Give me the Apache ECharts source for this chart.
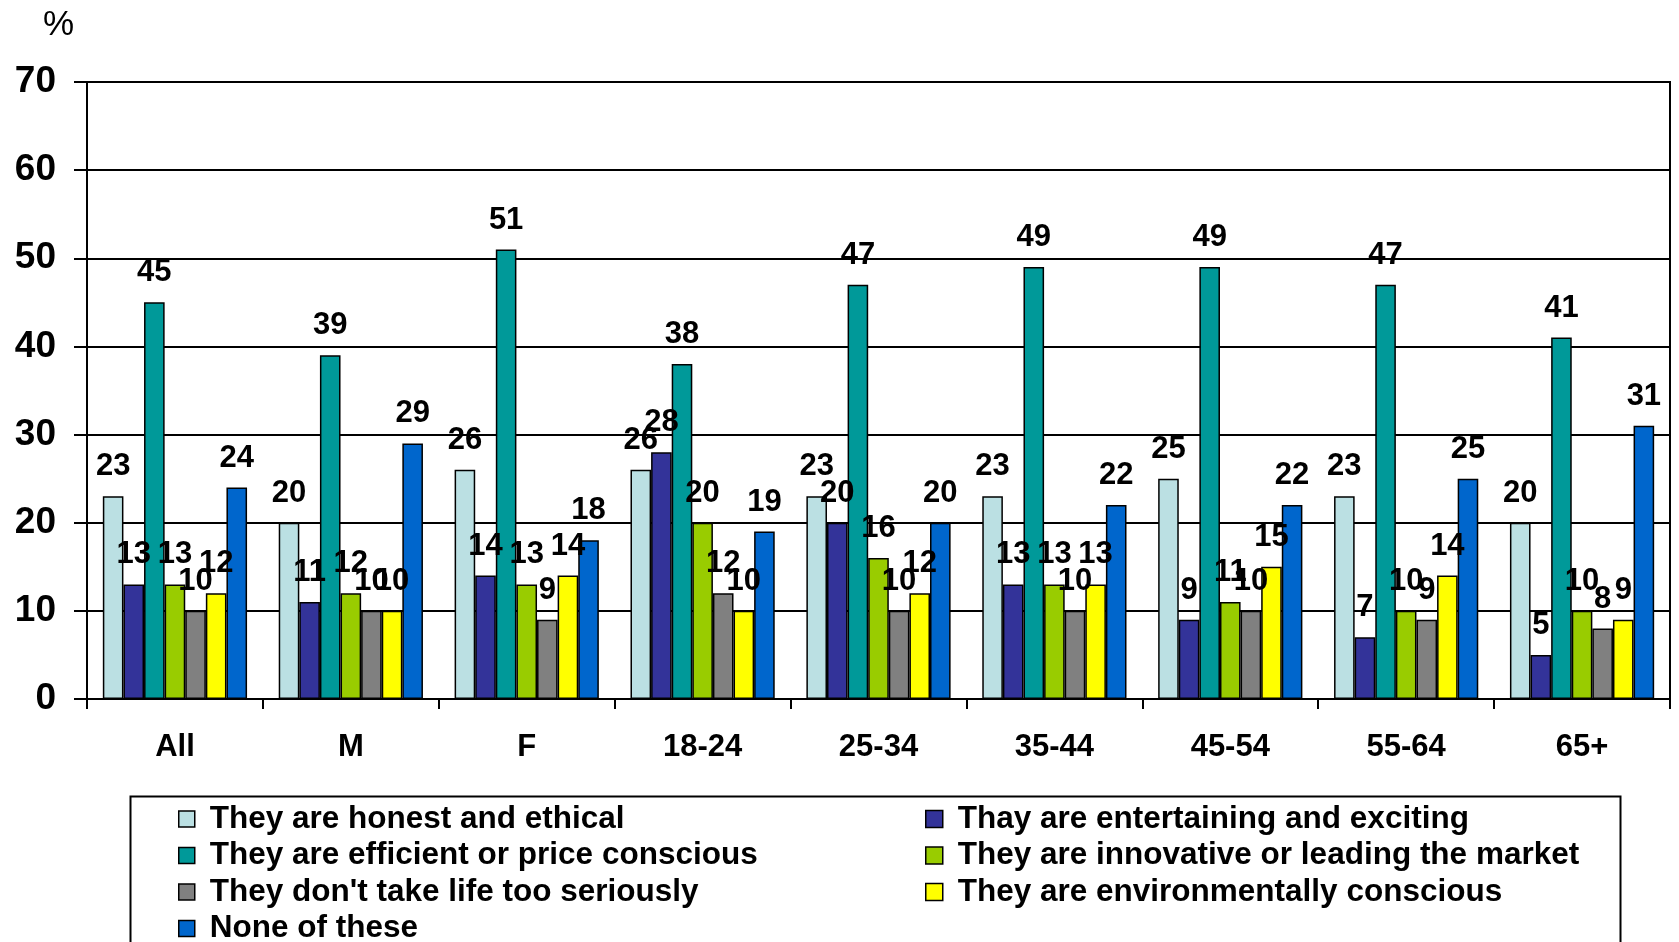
<!DOCTYPE html>
<html>
<head>
<meta charset="utf-8">
<script src="https://cdn.jsdelivr.net/npm/echarts@6/dist/echarts.min.js"></script>
<style>
html,body{margin:0;padding:0;background:#fff;}
#chart{width:1679px;height:942px;}
</style>
</head>
<body>
<div id="chart"></div>
<script>
var categories = ['All', 'M', 'F', '18-24', '25-34', '35-44', '45-54', '55-64', '65+'];
var yTicks = [0, 10, 20, 30, 40, 50, 60, 70];
var seriesNames = [
  'They are honest and ethical',
  'Thay are entertaining and exciting',
  'They are efficient or price conscious',
  'They are innovative or leading the market',
  "They don't take life too seriously",
  'They are environmentally conscious',
  'None of these'
];
var honest        = [23, 20, 26, 26, 23, 23, 25, 23, 20];
var entertaining  = [13, 11, 14, 28, 20, 13, 9, 7, 5];
var efficient     = [45, 39, 51, 38, 47, 49, 49, 47, 41];
var innovative    = [13, 12, 13, 20, 16, 13, 11, 10, 10];
var notSerious    = [10, 10, 9, 12, 10, 10, 10, 9, 8];
var environmental = [12, 10, 14, 10, 12, 13, 15, 14, 9];
var noneOfThese   = [24, 29, 18, 19, 20, 22, 22, 25, 31];

var seriesData = [honest, entertaining, efficient, innovative, notSerious, environmental, noneOfThese];
var colors = ['#BBE0E3', '#333399', '#009999', '#99CC00', '#808080', '#FFFF00', '#0066CC'];
var FONT = "'Liberation Sans', Arial, sans-serif";

var chart = echarts.init(document.getElementById('chart'), null, {renderer: 'canvas'});

var series = seriesData.map(function (d, i) {
  return {
    name: seriesNames[i],
    type: 'bar',
    data: d,
    barGap: '0%',
    barCategoryGap: '18%',
    itemStyle: {color: colors[i], borderColor: '#000', borderWidth: 1.5},
    label: {
      show: true,
      position: 'top',
      distance: 14,
      color: '#000',
      fontFamily: FONT,
      fontWeight: 'bold',
      fontSize: 31
    },
    emphasis: {disabled: true},
    animation: false
  };
});

var legendText = {
  fontFamily: FONT, fontWeight: 'bold', fontSize: 31.5, lineHeight: 30, color: '#000',
  padding: [0, 0, 0, 10]
};

var option = {
  animation: false,
  color: colors,
  title: {
    text: '%',
    left: 38,
    top: 3,
    textStyle: {fontFamily: FONT, fontWeight: 'normal', fontSize: 35, color: '#000'}
  },
  grid: {
    left: 87, right: 9, top: 82, bottom: 243,
    show: true, borderColor: '#000', borderWidth: 2, backgroundColor: 'transparent'
  },
  legend: [
    {
      data: [seriesNames[0], seriesNames[2], seriesNames[4], seriesNames[6]],
      orient: 'vertical',
      left: 178, top: 803,
      height: 300,
      padding: 0,
      itemWidth: 16, itemHeight: 16, itemGap: 4.5,
      icon: 'rect',
      itemStyle: {borderColor: '#000', borderWidth: 1.5},
      textStyle: legendText,
      selectedMode: false
    },
    {
      data: [seriesNames[1], seriesNames[3], seriesNames[5]],
      orient: 'vertical',
      left: 925, top: 803,
      height: 300,
      padding: 0,
      itemWidth: 17, itemHeight: 17, itemGap: 4.5,
      icon: 'rect',
      itemStyle: {borderColor: '#000', borderWidth: 1.5},
      textStyle: legendText,
      selectedMode: false
    }
  ],
  graphic: [
    {
      type: 'rect',
      left: 128, top: 794,
      shape: {width: 1490, height: 200},
      style: {fill: 'none', stroke: '#000', lineWidth: 2},
      silent: true
    }
  ],
  xAxis: {
    type: 'category',
    data: categories,
    axisLine: {show: true, lineStyle: {color: '#000', width: 2}},
    axisTick: {show: true, alignWithLabel: false, length: 10, lineStyle: {color: '#000', width: 2}},
    axisLabel: {margin: 33, color: '#000', fontFamily: FONT, fontWeight: 'bold', fontSize: 31},
    splitLine: {show: false}
  },
  yAxis: {
    type: 'value',
    min: 0, max: 70, interval: 10,
    axisLine: {show: true, lineStyle: {color: '#000', width: 2}},
    axisTick: {show: true, length: 13, lineStyle: {color: '#000', width: 2}},
    axisLabel: {
      margin: 31, color: '#000', fontFamily: FONT, fontWeight: 'bold', fontSize: 37,
      formatter: function (v) { return yTicks.indexOf(v) >= 0 ? String(v) : ''; }
    },
    splitLine: {show: true, lineStyle: {color: '#000', width: 2}}
  },
  series: series
};
chart.setOption(option);
</script>
</body>
</html>
